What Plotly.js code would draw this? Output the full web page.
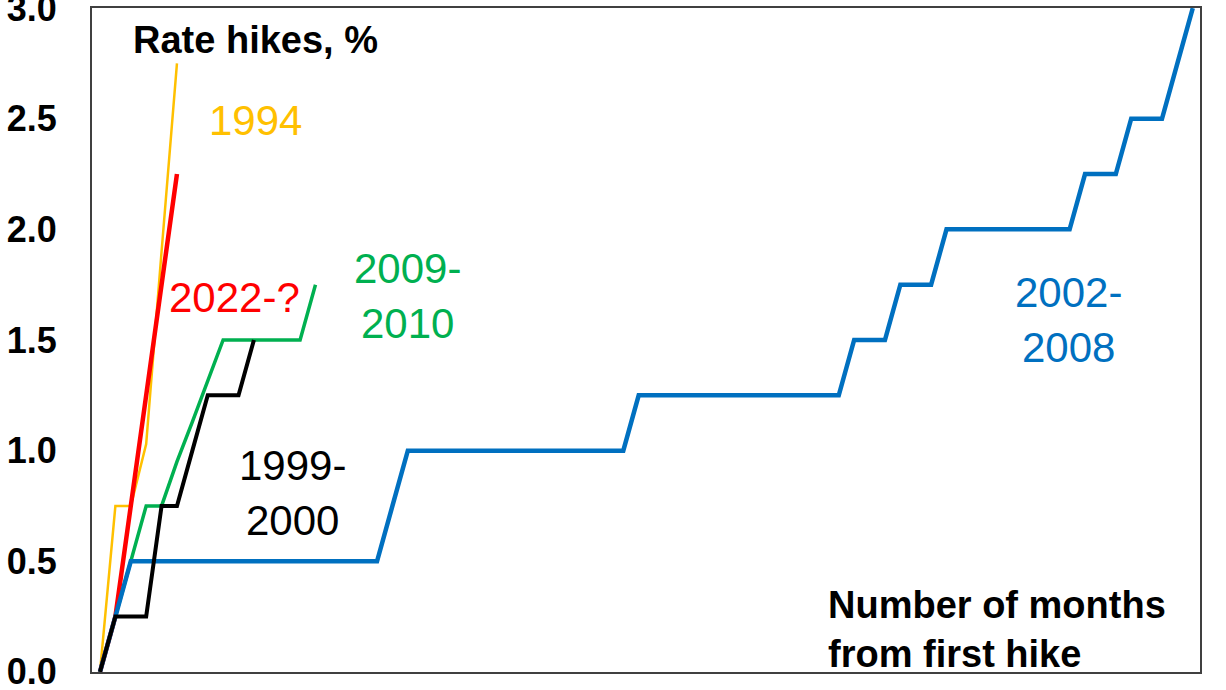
<!DOCTYPE html>
<html>
<head>
<meta charset="utf-8">
<script src="https://cdn.plot.ly/plotly-3.0.1.min.js"></script>
<style>html,body{margin:0;padding:0;background:#fff;}#chart{width:1226px;height:690px;}</style>
</head>
<body>
<div id="chart"></div>
<script>
// Months from first hike and cumulative rate hikes (%)
var months1994 = [0, 1, 2, 3, 4, 5];
var hikes1994 = [0, 0.75, 0.75, 1.03, 1.9, 2.75];

var months2022 = [0, 1, 2, 3, 4, 5];
var hikes2022 = [0, 0.25, 0.75, 1.25, 1.75, 2.25];

var months2009 = [0, 1, 2, 3, 4, 5, 6, 7, 8, 9, 10, 11, 12, 13, 14];
var hikes2009 = [0, 0.25, 0.5, 0.75, 0.75, 0.95, 1.13, 1.31, 1.5, 1.5, 1.5, 1.5, 1.5, 1.5, 1.75];

var months1999 = [0, 1, 2, 3, 4, 5, 6, 7, 8, 9, 10];
var hikes1999 = [0, 0.25, 0.25, 0.25, 0.75, 0.75, 1.0, 1.25, 1.25, 1.25, 1.5];

var months2002 = [0, 1, 2, 3, 4, 5, 6, 7, 8, 9, 10, 11, 12, 13, 14, 15, 16, 17, 18, 19,
                  20, 21, 22, 23, 24, 25, 26, 27, 28, 29, 30, 31, 32, 33, 34, 35, 36, 37, 38, 39,
                  40, 41, 42, 43, 44, 45, 46, 47, 48, 49, 50, 51, 52, 53, 54, 55, 56, 57, 58, 59,
                  60, 61, 62, 63, 64, 65, 66, 67, 68, 69, 70, 71];
var hikes2002 = [0, 0.25, 0.5, 0.5, 0.5, 0.5, 0.5, 0.5, 0.5, 0.5, 0.5, 0.5, 0.5, 0.5, 0.5, 0.5, 0.5, 0.5, 0.5, 0.75,
                 1.0, 1.0, 1.0, 1.0, 1.0, 1.0, 1.0, 1.0, 1.0, 1.0, 1.0, 1.0, 1.0, 1.0, 1.0, 1.25, 1.25, 1.25, 1.25, 1.25,
                 1.25, 1.25, 1.25, 1.25, 1.25, 1.25, 1.25, 1.25, 1.25, 1.5, 1.5, 1.5, 1.75, 1.75, 1.75, 2.0, 2.0, 2.0, 2.0, 2.0,
                 2.0, 2.0, 2.0, 2.0, 2.25, 2.25, 2.25, 2.5, 2.5, 2.5, 2.75, 3.0];

var yTicks = [0, 0.5, 1.0, 1.5, 2.0, 2.5, 3.0];
var yTickLabels = ["0.0", "0.5", "1.0", "1.5", "2.0", "2.5", "3.0"];

var FONT = "Liberation Sans, Arial, sans-serif";

var traces = [
  {x: months1994, y: hikes1994, mode: "lines", line: {color: "#FFC000", width: 2.5}, name: "1994"},
  {x: months2009, y: hikes2009, mode: "lines", line: {color: "#00B050", width: 3.5}, name: "2009-2010"},
  {x: months2022, y: hikes2022, mode: "lines", line: {color: "#FF0000", width: 4.5}, name: "2022-?"},
  {x: months2002, y: hikes2002, mode: "lines", line: {color: "#0070C0", width: 4.5}, name: "2002-2008"},
  {x: months1999, y: hikes1999, mode: "lines", line: {color: "#000000", width: 4}, name: "1999-2000"}
];

var layout = {
  width: 1226, height: 690,
  margin: {l: 92, r: 26, t: 8, b: 18},
  paper_bgcolor: "#ffffff", plot_bgcolor: "#ffffff",
  showlegend: false,
  font: {family: FONT, color: "#000"},
  xaxis: {
    range: [-0.52, 71.47], showgrid: false, zeroline: false,
    showticklabels: false, ticks: "",
    showline: true, mirror: true, linecolor: "#404040", linewidth: 2
  },
  yaxis: {
    range: [-0.0005, 3.0005], showgrid: false, zeroline: false,
    tickvals: yTicks, ticktext: yTickLabels, ticks: "",
    tickfont: {family: FONT, size: 36, color: "#000", weight: "bold"},
    ticklabelstandoff: 26, ticklabeloverflow: "allow",
    showline: true, mirror: true, linecolor: "#404040", linewidth: 2
  },
  annotations: [
    {x: 10.1, y: 2.855, text: "<b>Rate hikes, %</b>", showarrow: false, font: {size: 38, color: "#000"}},
    {x: 10.1, y: 2.494, text: "1994", showarrow: false, font: {size: 42, color: "#FFC000"}},
    {x: 8.77, y: 1.694, text: "2022-?", showarrow: false, font: {size: 42, color: "#FF0000"}},
    {x: 20.0, y: 1.70, text: "2009-<br>2010", showarrow: false, font: {size: 42, color: "#00B050"}},
    {x: 12.48, y: 0.81, text: "1999-<br>2000", showarrow: false, font: {size: 42, color: "#000"}},
    {x: 62.9, y: 1.59, text: "2002-<br>2008", showarrow: false, font: {size: 42, color: "#0070C0"}},
    {x: 47.2, y: 0.19, xanchor: "left", align: "left", text: "<b>Number of months<br>from first hike</b>", showarrow: false, font: {size: 38, color: "#000"}}
  ]
};

Plotly.newPlot("chart", traces, layout, {staticPlot: true, displayModeBar: false});
</script>
</body>
</html>
